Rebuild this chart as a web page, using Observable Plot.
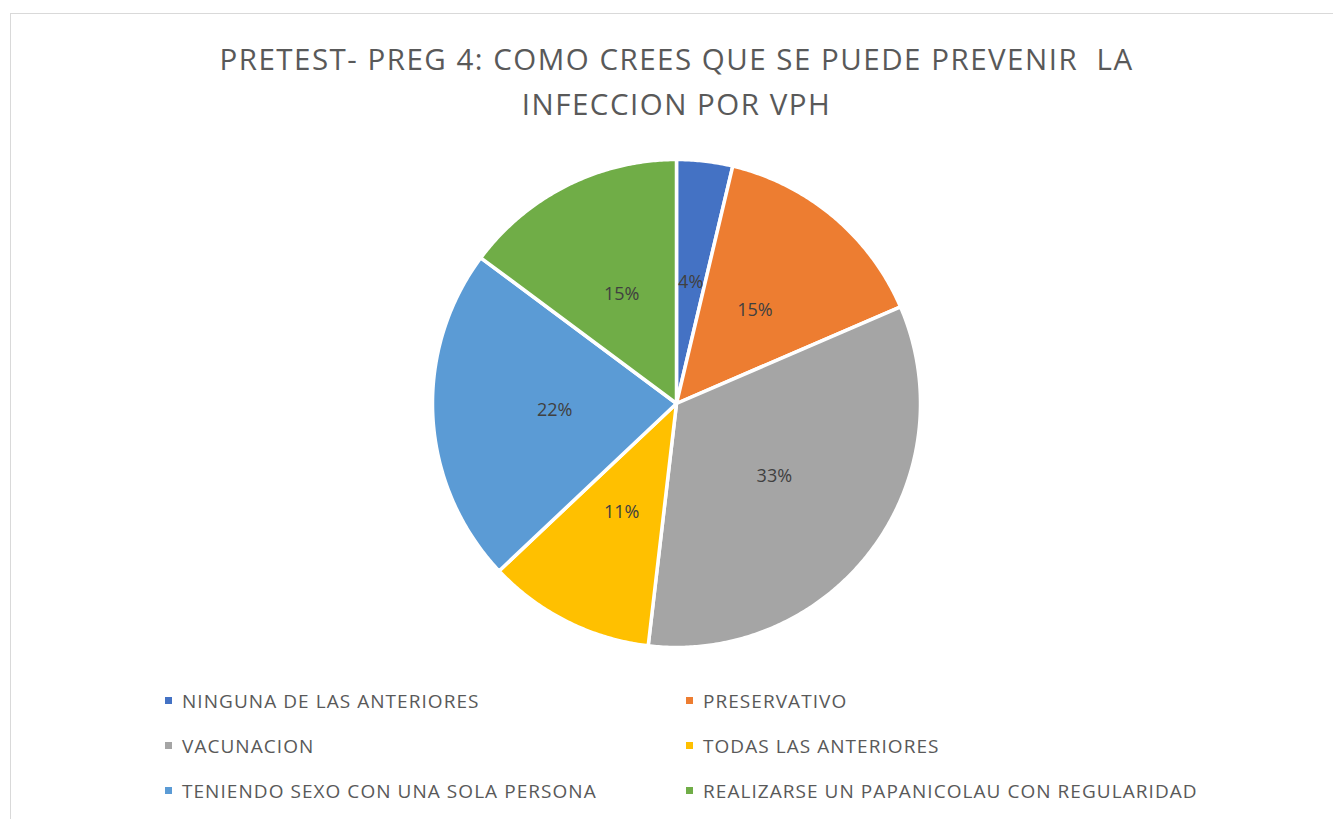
<!DOCTYPE html>
<html><head><meta charset="utf-8">
<script src="https://cdn.jsdelivr.net/npm/d3@7"></script>
<script src="https://cdn.jsdelivr.net/npm/@observablehq/plot@0.6"></script>
<style>
body{margin:0;background:#fff;font-family:"Open Sans",sans-serif;}
#wrap{position:relative;width:1333px;height:819px;overflow:hidden;}
#frame{position:absolute;left:10px;top:13px;width:1400px;height:900px;border:1.5px solid #d9d9d9;box-sizing:border-box;}
#title{position:absolute;left:0;width:1353px;top:36px;text-align:center;font-size:29.5px;letter-spacing:1.5px;color:#595959;line-height:45px;}
#chart{position:absolute;left:0;top:0;}
.leg{position:absolute;font-size:19px;letter-spacing:1.05px;color:#595959;white-space:nowrap;line-height:20px;}
.sw{position:absolute;width:7px;height:7px;}
</style></head>
<body><div id="wrap"><div id="frame"></div><div id="chart"></div>
<div id="title">PRETEST- PREG 4: COMO CREES QUE SE PUEDE PREVENIR &nbsp;LA<br>INFECCION POR VPH</div>
<div id="legend"></div></div>
<script>
const categories = ["NINGUNA DE LAS ANTERIORES","PRESERVATIVO","VACUNACION","TODAS LAS ANTERIORES","TENIENDO SEXO CON UNA SOLA PERSONA","REALIZARSE UN PAPANICOLAU CON REGULARIDAD"];
const counts = [1,4,9,3,6,4];
const colors = ["#4472C4","#ED7D31","#A5A5A5","#FFC000","#5B9BD5","#70AD47"];

const W=1333,H=819,R=244,cx=676,cy=403;
const total=d3.sum(counts);
let cum=0;const slices=[];const labels=[];
categories.forEach((c,i)=>{
  const a0=cum/total*2*Math.PI; cum+=counts[i]; const a1=cum/total*2*Math.PI;
  const n=Math.max(2,Math.ceil((a1-a0)/(Math.PI/360)));
  slices.push({cat:c,x:0,y:0});
  for(let k=0;k<=n;k++){const a=a0+(a1-a0)*k/n;slices.push({cat:c,x:Math.sin(a),y:Math.cos(a)});}
  slices.push({cat:c,x:0,y:0});
  const am=(a0+a1)/2;
  labels.push({x:0.5*Math.sin(am),y:0.5*Math.cos(am),text:Math.round(counts[i]/total*100)+"%"});
});
const plot=Plot.plot({
  width:W,height:H,margin:0,
  style:{background:"transparent",fontFamily:"Open Sans"},
  x:{domain:[-cx/R,(W-cx)/R],range:[0,W],axis:null},
  y:{domain:[-(H-cy)/R,cy/R],range:[H,0],axis:null},
  color:{domain:categories,range:colors},
  marks:[
    Plot.line(slices,{x:"x",y:"y",z:"cat",fill:"cat",stroke:"white",strokeWidth:3.5,strokeLinejoin:"round"}),
    Plot.text(labels,{x:"x",y:"y",text:"text",fontSize:18,fill:"#404040"})
  ]
});
document.getElementById("chart").appendChild(plot);
const legPos=[[165,701],[686,701],[165,746],[686,746],[165,791],[686,791]];
const leg=document.getElementById("legend");
categories.forEach((c,i)=>{
  const [x,y]=legPos[i];
  const s=document.createElement("div");s.className="sw";s.style.left=x+"px";s.style.top=(y-4)+"px";s.style.background=colors[i];leg.appendChild(s);
  const t=document.createElement("div");t.className="leg";t.style.left=(x+17)+"px";t.style.top=(y-10)+"px";t.textContent=c;leg.appendChild(t);
});
</script></body></html>
